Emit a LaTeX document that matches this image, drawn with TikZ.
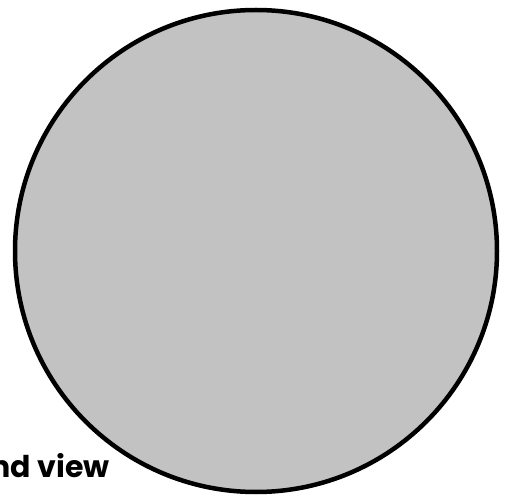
\documentclass[tikz,border=0pt]{standalone}
\usepackage{fontspec}
\newfontfamily\labfont{Poppins}[UprightFont=*-Bold]
\begin{document}
\begin{tikzpicture}[x=1pt,y=1pt,
  disc/.style={draw=black,line width=4.5pt,fill=black!24},
  lab/.style={font=\labfont\fontsize{30}{30}\selectfont,inner sep=0pt}]
\useasboundingbox (0,0) rectangle (507,499);
\clip (0,0) rectangle (507,499);
\node[disc,circle,minimum size=482pt,inner sep=0pt] (end) at (256,248) {};
\node[lab,anchor=base east] (label) at (110,22) {nd view};
\end{tikzpicture}
\end{document}
